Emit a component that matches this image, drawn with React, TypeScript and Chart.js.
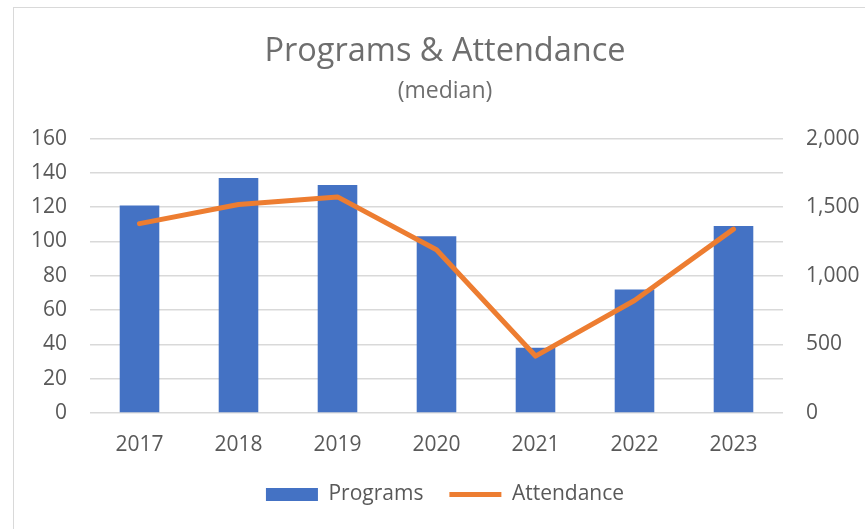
import React, { useEffect, useRef } from 'react';
import { Chart, registerables } from 'chart.js';

Chart.register(...registerables);

const years = ['2017', '2018', '2019', '2020', '2021', '2022', '2023'];
const programs = [121, 137, 133, 103, 38, 72, 109];
const attendance = [1380, 1520, 1575, 1190, 415, 820, 1340];
const programsAxisMax = 160;
const programsStep = 20;
const attendanceAxisMax = 2000;
const attendanceStep = 500;

const FONT = '"Open Sans", "Noto Sans", sans-serif';
const TEXT = '#595959';

export default function App() {
  const ref = useRef<HTMLCanvasElement | null>(null);

  useEffect(() => {
    if (!ref.current) return;
    const chart = new Chart(ref.current, {
      type: 'bar',
      data: {
        labels: years,
        datasets: [
          {
            type: 'bar',
            label: 'Programs',
            data: programs,
            backgroundColor: '#4472C4',
            borderWidth: 0,
            barPercentage: 0.4,
            categoryPercentage: 1,
            yAxisID: 'y',
            order: 2,
            pointStyle: 'rect',
          } as any,
          {
            type: 'line',
            label: 'Attendance',
            data: attendance,
            borderColor: '#ED7D31',
            backgroundColor: '#ED7D31',
            borderWidth: 5,
            pointRadius: 0,
            tension: 0,
            borderCapStyle: 'round',
            borderJoinStyle: 'round',
            yAxisID: 'y1',
            order: 1,
            pointStyle: 'line',
          } as any,
        ],
      },
      options: {
        responsive: false,
        animation: false,
        locale: 'en-US',
        layout: { padding: { left: 25, right: 0, top: 0, bottom: 14 } },
        plugins: {
          title: {
            display: true,
            text: 'Programs & Attendance',
            color: '#6e6e6e',
            font: { family: FONT, size: 32.5, weight: 'normal' },
            padding: { top: 32, bottom: 4 },
          },
          subtitle: {
            display: true,
            text: '(median)',
            color: '#6e6e6e',
            font: { family: FONT, size: 23, weight: 'normal' },
            padding: { top: 3, bottom: 33 },
          },
          legend: {
            display: true,
            position: 'bottom',
            labels: {
              usePointStyle: true,
              pointStyleWidth: 52,
              boxHeight: 13,
              color: TEXT,
              padding: 26,
              font: { family: FONT, size: 21 },
              sort: (a: any, b: any) => a.datasetIndex - b.datasetIndex,
            },
          },
          tooltip: { enabled: false },
        },
        scales: {
          x: {
            grid: { display: false, drawTicks: false },
            border: { display: false },
            ticks: { color: TEXT, padding: 19, font: { family: FONT, size: 21 } },
            afterFit: (s: any) => {
              s.height = 45;
            },
          },
          y: {
            position: 'left',
            min: 0,
            max: programsAxisMax,
            ticks: { stepSize: programsStep, color: TEXT, padding: 23, font: { family: FONT, size: 21 } },
            grid: { color: '#d9d9d9', lineWidth: 1.5, drawTicks: false },
            border: { display: false },
            afterFit: (s: any) => {
              s.width = 65;
            },
          },
          y1: {
            position: 'right',
            min: 0,
            max: attendanceAxisMax,
            ticks: { stepSize: attendanceStep, color: TEXT, padding: 23, font: { family: FONT, size: 21 } },
            grid: { display: false, drawTicks: false },
            border: { display: false },
            afterFit: (s: any) => {
              s.width = 82;
            },
          },
        },
      },
    });
    return () => chart.destroy();
  }, []);

  return (
    <div
      style={{
        position: 'fixed',
        left: 0,
        top: 0,
        width: 865,
        height: 529,
        overflow: 'hidden',
        background: '#ffffff',
      }}
    >
      <div
        style={{
          position: 'absolute',
          left: 13,
          top: 7,
          width: 900,
          height: 600,
          border: '1px solid #d9d9d9',
          boxSizing: 'border-box',
        }}
      />
      <canvas ref={ref} width={865} height={529} style={{ position: 'absolute', left: 0, top: 0 }} />
    </div>
  );
}
